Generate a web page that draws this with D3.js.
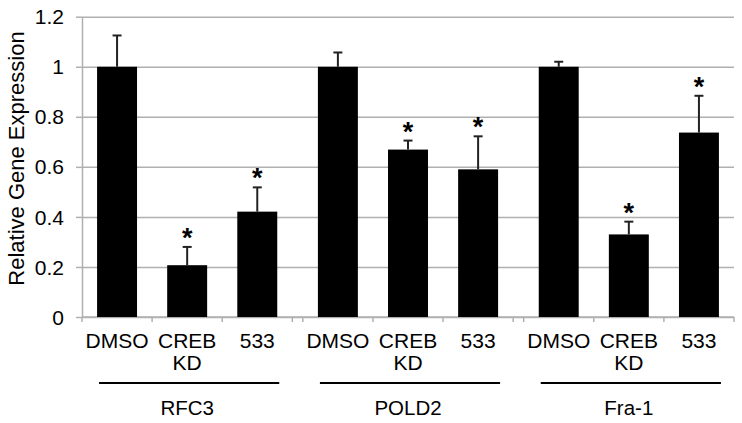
<!DOCTYPE html>
<html>
<head>
<meta charset="utf-8">
<script src="https://cdn.jsdelivr.net/npm/d3@7"></script>
<style>
  html, body { margin: 0; padding: 0; background: #fff; }
  svg { display: block; }
  text { font-family: "Liberation Sans", Arial, Helvetica, sans-serif; fill: #000; }
</style>
</head>
<body>
<svg id="chart" width="742" height="423"></svg>
<script>
// ---- data ----
const groups = ["RFC3", "POLD2", "Fra-1"];
const conditions = ["DMSO", "CREB KD", "533"];
const rfc3Means = [1.0, 0.207, 0.421];
const rfc3Errors = [0.125, 0.073, 0.097];
const pold2Means = [1.0, 0.669, 0.59];
const pold2Errors = [0.057, 0.036, 0.132];
const fra1Means = [1.0, 0.33, 0.737];
const fra1Errors = [0.02, 0.051, 0.147];
const significant = [false, true, true];
const yTicks = [0, 0.2, 0.4, 0.6, 0.8, 1.0, 1.2];
const yTickLabels = ["0", "0.2", "0.4", "0.6", "0.8", "1", "1.2"];
const yTitle = "Relative Gene Expression";

const meansByGroup = [rfc3Means, pold2Means, fra1Means];
const errorsByGroup = [rfc3Errors, pold2Errors, fra1Errors];
const rows = [];
groups.forEach((g, gi) => {
  conditions.forEach((c, ci) => {
    rows.push({ group: g, cond: c, mean: meansByGroup[gi][ci], err: errorsByGroup[gi][ci], sig: significant[ci] });
  });
});

// ---- layout ----
const svg = d3.select("#chart");
const plotLeft = 82, plotRight = 734, plotTop = 16.7, plotBottom = 317;
const gridColor = "#b0b0b0";

const x0 = d3.scaleBand().domain(groups).range([plotLeft, plotRight]).paddingInner(0.0476);
const x1 = d3.scaleBand().domain(conditions).range([0, x0.bandwidth()]);
const y = d3.scaleLinear().domain([0, 1.2]).range([plotBottom, plotTop]);
const barW = x1.bandwidth() * 0.57;
const barX = d => x0(d.group) + x1(d.cond) + (x1.bandwidth() - barW) / 2;
const barCx = d => x0(d.group) + x1(d.cond) + x1.bandwidth() / 2;

// gridlines
svg.append("g")
  .attr("transform", `translate(${plotLeft},0)`)
  .call(d3.axisRight(y).tickValues(yTicks).tickSize(plotRight - plotLeft).tickFormat(""))
  .call(g => g.select(".domain").remove())
  .call(g => g.selectAll("line").attr("stroke", gridColor).attr("stroke-width", 1.5));

// y axis
svg.append("g")
  .attr("transform", `translate(${plotLeft},0)`)
  .call(d3.axisLeft(y).tickValues(yTicks).tickSize(6).tickSizeOuter(0).tickPadding(12)
    .tickFormat((d, i) => yTickLabels[i]))
  .call(g => g.select(".domain").attr("stroke", gridColor).attr("stroke-width", 1.5))
  .call(g => g.selectAll("line").attr("stroke", gridColor).attr("stroke-width", 1.5))
  .call(g => g.selectAll("text").attr("font-size", 21).attr("fill", "#000").attr("dy", "0.34em")
    .attr("font-family", '"Liberation Sans", Arial, sans-serif'));

// x axis baseline
svg.append("line")
  .attr("x1", plotLeft).attr("x2", plotRight).attr("y1", plotBottom).attr("y2", plotBottom)
  .attr("stroke", gridColor).attr("stroke-width", 1.5);

// x tick marks at category boundaries
const tickXs = [];
groups.forEach(g => {
  conditions.forEach(c => tickXs.push(x0(g) + x1(c)));
  tickXs.push(x0(g) + x0.bandwidth());
});
svg.append("g").selectAll("line").data(tickXs).join("line")
  .attr("x1", d => d).attr("x2", d => d)
  .attr("y1", plotBottom).attr("y2", plotBottom + 5)
  .attr("stroke", gridColor).attr("stroke-width", 1.5);

// bars
svg.append("g").selectAll("rect").data(rows).join("rect")
  .attr("x", barX)
  .attr("y", d => y(d.mean))
  .attr("width", barW)
  .attr("height", d => y(0) - y(d.mean))
  .attr("fill", "#000");

// error bars
const eb = svg.append("g").attr("stroke", "#222").attr("stroke-width", 2);
eb.selectAll("line.v").data(rows).join("line").attr("class", "v")
  .attr("x1", barCx).attr("x2", barCx)
  .attr("y1", d => y(d.mean)).attr("y2", d => y(d.mean + d.err));
eb.selectAll("line.c").data(rows).join("line").attr("class", "c")
  .attr("x1", d => barCx(d) - 4.5).attr("x2", d => barCx(d) + 4.5)
  .attr("y1", d => y(d.mean + d.err)).attr("y2", d => y(d.mean + d.err));

// significance stars
svg.append("g").selectAll("text").data(rows.filter(d => d.sig)).join("text")
  .attr("x", barCx)
  .attr("y", d => y(d.mean + d.err) + 0)
  .attr("text-anchor", "middle")
  .attr("font-size", 27)
  .attr("font-weight", "bold")
  .text("*");

// x category labels (multi-line)
const labels = svg.append("g").selectAll("text").data(rows).join("text")
  .attr("text-anchor", "middle")
  .attr("font-size", 21)
  .attr("y", 348);
labels.each(function (d) {
  const parts = d.cond.split(" ");
  d3.select(this).selectAll("tspan").data(parts).join("tspan")
    .attr("x", barCx(d))
    .attr("dy", (p, i) => i === 0 ? 0 : 22)
    .text(p => p);
});

// group underlines
svg.append("g").selectAll("line").data(groups).join("line")
  .attr("x1", g => x0(g) + x1(conditions[0]) + (x1.bandwidth() - barW) / 2 + 2)
  .attr("x2", g => x0(g) + x1(conditions[conditions.length - 1]) + (x1.bandwidth() + barW) / 2 + 2)
  .attr("y1", 383).attr("y2", 383)
  .attr("stroke", "#000").attr("stroke-width", 2.2);

// group labels
svg.append("g").selectAll("text").data(groups).join("text")
  .attr("x", g => x0(g) + x0.bandwidth() / 2)
  .attr("y", 415)
  .attr("text-anchor", "middle")
  .attr("font-size", 20.5)
  .text(g => g);

// y title
svg.append("text")
  .attr("transform", "translate(24,158.5) rotate(-90)")
  .attr("text-anchor", "middle")
  .attr("font-size", 22)
  .text(yTitle);
</script>
</body>
</html>
